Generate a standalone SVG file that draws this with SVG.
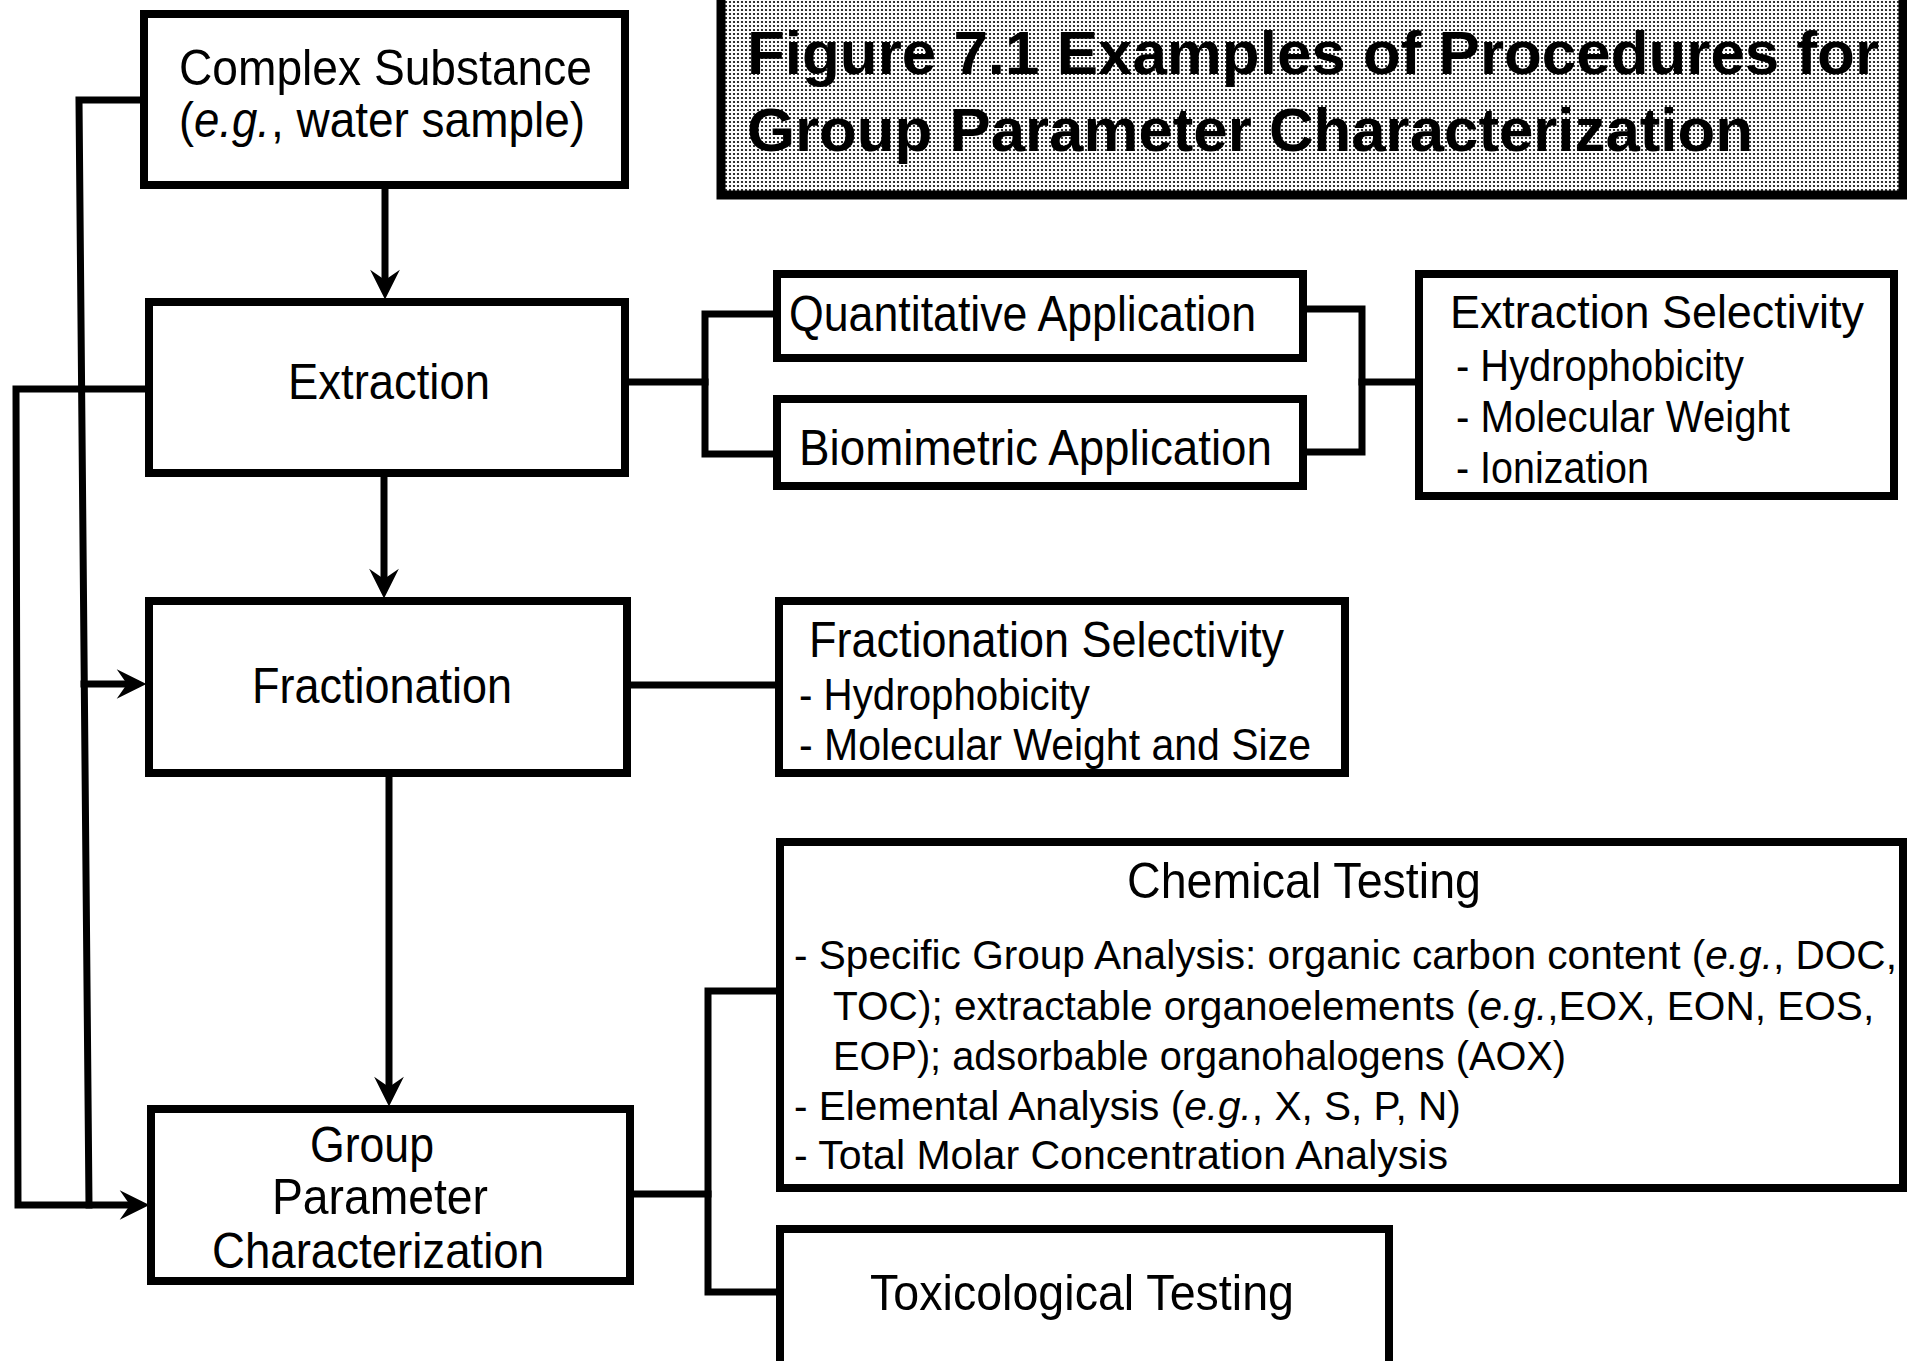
<svg xmlns="http://www.w3.org/2000/svg" width="1907" height="1361" viewBox="0 0 1907 1361">
<style>
.box{fill:#fff;stroke:#000;stroke-width:8}
.c{fill:none;stroke:#000;stroke-width:7;stroke-linejoin:miter;stroke-linecap:square}
text{font-family:"Liberation Sans",Arial,Helvetica,sans-serif;fill:#000}
.lbl{font-size:50px}
.sub{font-size:44px}
.sm{font-size:40.6px}
.ttl{font-size:61px;font-weight:bold}
.i{font-style:italic}
</style>
<defs>
<pattern id="dots" width="4" height="4" patternUnits="userSpaceOnUse">
<rect width="4" height="4" fill="#fff"/>
<circle cx="2" cy="2" r="1.1" fill="#000"/>
</pattern>
<marker id="arr" markerUnits="userSpaceOnUse" markerWidth="40" markerHeight="40" viewBox="-20 -15 35 30" refX="0" refY="0" orient="auto">
<path d="M10,0 L-16,-13 L-7,0 L-16,13 Z" fill="#000"/>
</marker>
</defs>
<rect width="1907" height="1361" fill="#fff"/>

<g id="title">
<rect x="721" y="-10" width="1182" height="205" fill="url(#dots)" stroke="#000" stroke-width="9"/>
<text class="ttl" x="747" y="74" textLength="1132" lengthAdjust="spacingAndGlyphs">Figure 7.1 Examples of Procedures for</text>
<text class="ttl" x="747" y="151" textLength="1006" lengthAdjust="spacingAndGlyphs">Group Parameter Characterization</text>
</g>

<g id="connectors">
<path class="c" d="M143,100 H79 L89,1205"/>
<path class="c" d="M148,389 H16 L18,1205 H138" marker-end="url(#arr)"/>
<path class="c" d="M84,684 H135" marker-end="url(#arr)"/>
<path class="c" d="M385,189 V288" marker-end="url(#arr)"/>
<path class="c" d="M384,477 V587" marker-end="url(#arr)"/>
<path class="c" d="M389,777 V1095" marker-end="url(#arr)"/>
<path class="c" d="M629,382 H705"/>
<path class="c" d="M776,314 H705 V454 H776"/>
<path class="c" d="M1307,309 H1362 V452 H1307"/>
<path class="c" d="M1362,382 H1418"/>
<path class="c" d="M631,685 H778"/>
<path class="c" d="M634,1194 H708"/>
<path class="c" d="M779,991 H708 V1292 H779"/>
</g>

<g id="complex-substance">
<rect class="box" x="144" y="14" width="481" height="171"/>
<text class="lbl" x="179" y="85" textLength="413" lengthAdjust="spacingAndGlyphs">Complex Substance</text>
<text class="lbl" x="179" y="137" textLength="15" lengthAdjust="spacingAndGlyphs">(</text>
<text class="lbl i" x="194" y="137" textLength="76" lengthAdjust="spacingAndGlyphs">e.g.</text>
<text class="lbl" x="271" y="137" textLength="314" lengthAdjust="spacingAndGlyphs">, water sample)</text>
</g>

<g id="extraction">
<rect class="box" x="149" y="302" width="476" height="171"/>
<text class="lbl" x="288" y="399" textLength="202" lengthAdjust="spacingAndGlyphs">Extraction</text>
</g>

<g id="fractionation">
<rect class="box" x="149" y="601" width="478" height="172"/>
<text class="lbl" x="252" y="703" textLength="260" lengthAdjust="spacingAndGlyphs">Fractionation</text>
</g>

<g id="group-parameter-characterization">
<rect class="box" x="151" y="1109" width="479" height="172"/>
<text class="lbl" x="310" y="1162" textLength="124" lengthAdjust="spacingAndGlyphs">Group</text>
<text class="lbl" x="272" y="1214" textLength="216" lengthAdjust="spacingAndGlyphs">Parameter</text>
<text class="lbl" x="212" y="1268" textLength="332" lengthAdjust="spacingAndGlyphs">Characterization</text>
</g>

<g id="quantitative-application">
<rect class="box" x="777" y="274" width="526" height="84"/>
<text class="lbl" x="789" y="331" textLength="467" lengthAdjust="spacingAndGlyphs">Quantitative Application</text>
</g>

<g id="biomimetric-application">
<rect class="box" x="777" y="399" width="526" height="87"/>
<text class="lbl" x="799" y="465" textLength="473" lengthAdjust="spacingAndGlyphs">Biomimetric Application</text>
</g>

<g id="extraction-selectivity">
<rect class="box" x="1419" y="274" width="475" height="222"/>
<text class="lbl" x="1450" y="328" style="font-size:46px" textLength="414" lengthAdjust="spacingAndGlyphs">Extraction Selectivity</text>
<text class="sub" x="1456" y="381" textLength="288" lengthAdjust="spacingAndGlyphs">- Hydrophobicity</text>
<text class="sub" x="1456" y="432" textLength="334" lengthAdjust="spacingAndGlyphs">- Molecular Weight</text>
<text class="sub" x="1456" y="483" textLength="193" lengthAdjust="spacingAndGlyphs">- Ionization</text>
</g>

<g id="fractionation-selectivity">
<rect class="box" x="779" y="601" width="566" height="172"/>
<text class="lbl" x="809" y="657" textLength="475" lengthAdjust="spacingAndGlyphs">Fractionation Selectivity</text>
<text class="sub" x="799" y="710" textLength="291" lengthAdjust="spacingAndGlyphs">- Hydrophobicity</text>
<text class="sub" x="799" y="760" textLength="512" lengthAdjust="spacingAndGlyphs">- Molecular Weight and Size</text>
</g>

<g id="chemical-testing">
<rect class="box" x="780" y="842" width="1123" height="346"/>
<text class="lbl" x="1127" y="898" textLength="354" lengthAdjust="spacingAndGlyphs">Chemical Testing</text>
<text class="sm" x="794" y="969">- Specific Group Analysis: organic carbon content (<tspan class="i">e.g.</tspan>, DOC,</text>
<text class="sm" x="833" y="1020">TOC); extractable organoelements (<tspan class="i">e.g.</tspan>,EOX, EON, EOS,</text>
<text class="sm" x="833" y="1070" textLength="733" lengthAdjust="spacingAndGlyphs">EOP); adsorbable organohalogens (AOX)</text>
<text class="sm" x="794" y="1120">- Elemental Analysis (<tspan class="i">e.g.</tspan>, X, S, P, N)</text>
<text class="sm" x="794" y="1169" textLength="654" lengthAdjust="spacingAndGlyphs">- Total Molar Concentration Analysis</text>
</g>

<g id="toxicological-testing">
<rect class="box" x="780" y="1229" width="609" height="150"/>
<text class="lbl" x="870" y="1310" textLength="424" lengthAdjust="spacingAndGlyphs">Toxicological Testing</text>
</g>
</svg>
